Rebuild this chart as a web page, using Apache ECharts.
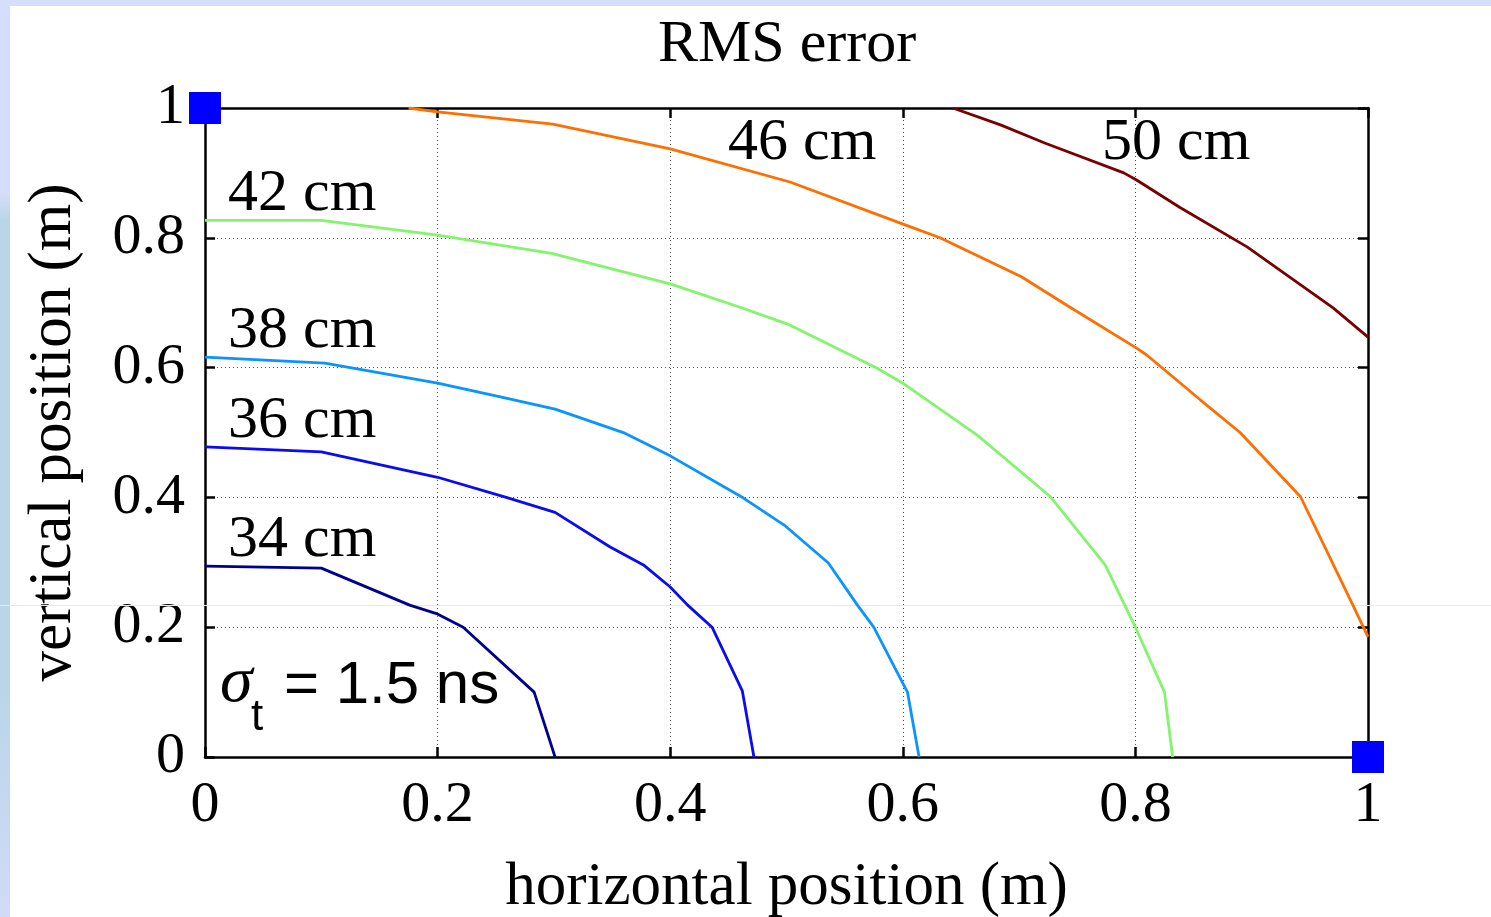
<!DOCTYPE html>
<html>
<head>
    <meta charset="UTF-8">
    <title>RMS error</title>
    <script src="https://cdn.jsdelivr.net/npm/echarts@6/dist/echarts.min.js"></script>
    <style>
        html, body { margin: 0; padding: 0; background: #fff; }
    </style>
</head>
<body>
<div id="chart" style="width:1491px; height:917px;"></div>
<script>
    // contour lines, [horizontal m, vertical m]
    var contour34 = [[0, 0.294], [0.1, 0.291], [0.176, 0.234], [0.199, 0.221], [0.222, 0.2], [0.283, 0.1], [0.301, 0]];
    var contour36 = [[0, 0.478], [0.1, 0.47], [0.2, 0.431], [0.259, 0.4], [0.301, 0.377], [0.348, 0.324], [0.377, 0.296],
        [0.4, 0.262], [0.415, 0.234], [0.436, 0.2], [0.462, 0.102], [0.472, 0]];
    var contour38 = [[0, 0.616], [0.103, 0.607], [0.2, 0.576], [0.254, 0.555], [0.301, 0.536], [0.361, 0.499], [0.4, 0.464],
        [0.463, 0.399], [0.499, 0.356], [0.536, 0.299], [0.561, 0.234], [0.575, 0.2], [0.604, 0.1], [0.614, 0]];
    var contour42 = [[0, 0.827], [0.1, 0.827], [0.2, 0.804], [0.298, 0.776], [0.4, 0.729], [0.46, 0.693], [0.501, 0.667],
        [0.578, 0.599], [0.6, 0.576], [0.664, 0.496], [0.727, 0.401], [0.774, 0.296], [0.8, 0.2], [0.825, 0.1], [0.832, 0]];
    var contour46 = [[0.175, 1], [0.2, 0.994], [0.299, 0.975], [0.4, 0.937], [0.503, 0.886], [0.602, 0.82], [0.632, 0.8],
        [0.702, 0.74], [0.741, 0.696], [0.801, 0.63], [0.81, 0.619], [0.856, 0.55], [0.89, 0.5], [0.942, 0.401],
        [0.987, 0.234], [1, 0.185]];
    var contour50 = [[0.643, 1], [0.684, 0.974], [0.722, 0.946], [0.79, 0.9], [0.801, 0.889], [0.838, 0.847],
        [0.896, 0.786], [0.97, 0.692], [1, 0.647]];
    var sensors = [[0, 1], [1, 0]];

    var serif = '"Liberation Serif", "Times New Roman", serif';
    var sans = '"Liberation Sans", Arial, sans-serif';

    var chart = echarts.init(document.getElementById('chart'), null, {renderer: 'canvas'});

    function contourLine(data, color) {
        return {
            type: 'line',
            data: data,
            symbol: 'none',
            smooth: false,
            lineStyle: {color: color, width: 2.8},
            z: 3
        };
    }

    function label(text, x, y) {
        return {
            type: 'text',
            z: 10,
            style: {text: text, x: x, y: y, fill: '#000', font: '60px ' + serif, textVerticalAlign: 'middle'}
        };
    }

    var tickStyle = {show: true, inside: true, length: 10, lineStyle: {color: '#000', width: 2.5}};
    var lineStyle = {show: true, onZero: false, lineStyle: {color: '#000', width: 2.5}};
    var gridLine = {show: true, lineStyle: {color: '#555', width: 1, type: [1, 3]}};

    var option = {
        backgroundColor: '#fff',
        animation: false,
        title: {
            text: 'RMS error',
            left: 653,
            top: 10,
            textStyle: {fontFamily: serif, fontSize: 60, fontWeight: 'normal', color: '#000'}
        },
        grid: {left: 205, right: 123, top: 108, bottom: 160, containLabel: false, outerBoundsMode: 'none'},
        xAxis: [{
            type: 'value', min: 0, max: 1, interval: 0.2,
            name: 'horizontal position (m)', nameLocation: 'middle', nameGap: 100,
            nameTextStyle: {fontFamily: serif, fontSize: 61, color: '#000'},
            axisLine: lineStyle, axisTick: tickStyle, splitLine: gridLine,
            axisLabel: {fontFamily: serif, fontSize: 58, color: '#000', margin: 20}
        }, {
            type: 'value', min: 0, max: 1, interval: 0.2, position: 'top',
            axisLine: lineStyle, axisTick: tickStyle, splitLine: {show: false}, axisLabel: {show: false}
        }],
        yAxis: [{
            type: 'value', min: 0, max: 1, interval: 0.2,
            name: 'vertical position (m)', nameLocation: 'middle', nameGap: 121,
            nameTextStyle: {fontFamily: serif, fontSize: 61, color: '#000'},
            axisLine: lineStyle, axisTick: tickStyle, splitLine: gridLine,
            axisLabel: {fontFamily: serif, fontSize: 58, color: '#000', margin: 20}
        }, {
            type: 'value', min: 0, max: 1, interval: 0.2, position: 'right',
            axisLine: lineStyle, axisTick: tickStyle, splitLine: {show: false}, axisLabel: {show: false}
        }],
        series: [
            contourLine(contour34, '#00008f'),
            contourLine(contour36, '#0a0af5'),
            contourLine(contour38, '#0a94ff'),
            contourLine(contour42, '#82f56c'),
            contourLine(contour46, '#ff6e00'),
            contourLine(contour50, '#7a0000'),
            {
                type: 'scatter',
                data: sensors,
                symbol: 'rect',
                symbolSize: 32,
                clip: false,
                itemStyle: {color: '#0000ff', opacity: 1},
                z: 12
            }
        ],
        graphic: [
            {type: 'rect', shape: {x: 0, y: 0, width: 1491, height: 6}, style: {fill: '#d5defa'}, z: 0},
            {
                type: 'rect', shape: {x: 0, y: 0, width: 10, height: 917}, z: 0,
                style: {
                    fill: new echarts.graphic.LinearGradient(0, 0, 0, 1, [
                        {offset: 0, color: '#d5defa'}, {offset: 0.21, color: '#d5defa'},
                        {offset: 0.24, color: '#bad5e8'}, {offset: 0.75, color: '#bad5e8'},
                        {offset: 1, color: '#d0dbf8'}
                    ])
                }
            },
            {type: 'rect', shape: {x: 0, y: 605, width: 1491, height: 1}, style: {fill: '#e3e9fb'}, z: 1},
            label('34 cm', 228, 540),
            label('36 cm', 228, 421),
            label('38 cm', 228, 331),
            label('42 cm', 228, 194),
            label('46 cm', 728, 143),
            label('50 cm', 1102, 143),
            {type: 'text', z: 10, style: {text: 'σ', x: 220, y: 684, fill: '#000', font: 'italic 66px ' + serif, textVerticalAlign: 'middle'}},
            {type: 'text', z: 10, style: {text: 't', x: 251, y: 718, fill: '#000', font: '44px ' + sans, textVerticalAlign: 'middle'}},
            {type: 'text', z: 10, style: {text: '= 1.5 ns', x: 284, y: 686, fill: '#000', font: '60px ' + sans, textVerticalAlign: 'middle'}}
        ]
    };

    chart.setOption(option);
</script>
</body>
</html>
